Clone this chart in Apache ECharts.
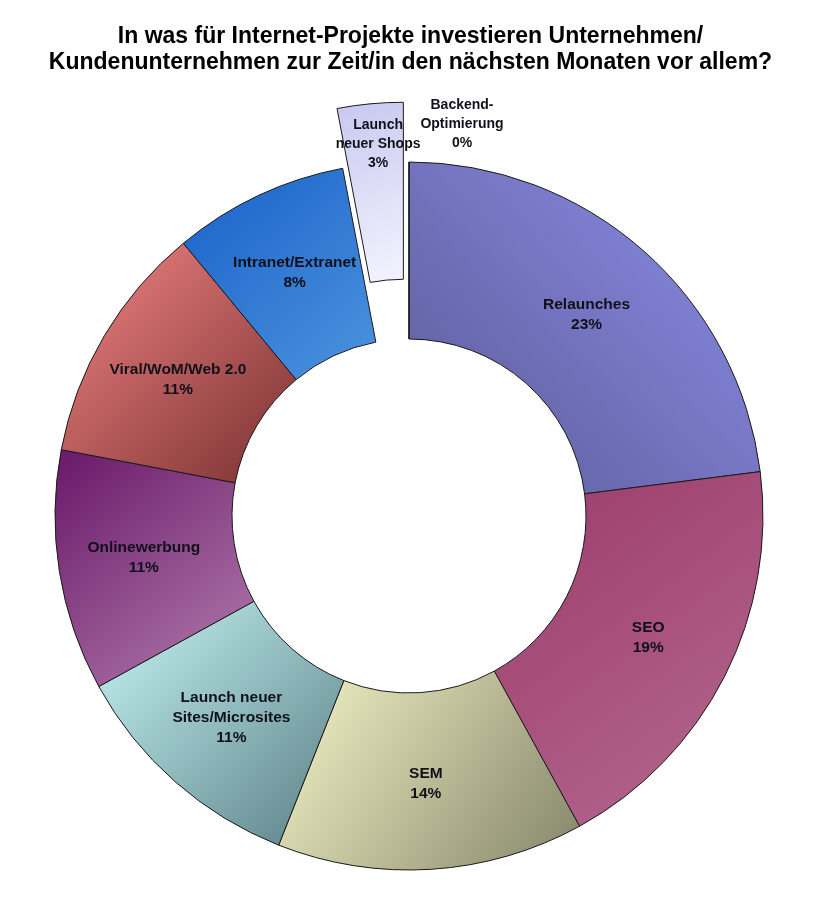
<!doctype html>
<html>
	<head>
		<meta charset="utf-8">
		<title></title>
		<script src="https://cdn.jsdelivr.net/npm/echarts@6/dist/echarts.min.js"></script>
		<style>
			html,body {
				margin: 0;
				width: 100%;
				height: 100%;
				background-color: #fff;
			}
			#container {
				width: 821px;
				height: 900px;
			}
		</style>
	</head>
	<body>
		<div id="container"></div>
		<script type="text/javascript">
			var categories = ['Relaunches', 'SEO', 'SEM', 'Launch neuer\nSites/Microsites', 'Onlinewerbung',
				'Viral/WoM/Web 2.0', 'Intranet/Extranet', 'Launch\nneuer Shops', 'Backend-\nOptimierung'];
			var values = [23, 19, 14, 11, 11, 11, 8, 3, 0];

			// gradient colours, start -> end
			var colorFrom = ['#8e8eea', '#9c3a6a', '#f6f6c8', '#c8f6f6', '#681868', '#f28484', '#1860c8', '#c8c8f0', '#ffffff'];
			var colorTo = ['#5a5a96', '#b46a90', '#84846a', '#587e84', '#b47eae', '#783030', '#4c94de', '#f4f4ff', '#ffffff'];

			var dom = document.getElementById("container");
			var myChart = echarts.init(dom);

			var data = [];
			for (var i = 0; i < categories.length; i++) {
				// Relaunches is lit from the top right, the rest from the top left
				var g = i == 0 ? [1, 0, 0, 1] : [0, 0, 1, 1];
				var item = {
					name: categories[i],
					value: values[i],
					itemStyle: {
						color: new echarts.graphic.LinearGradient(g[0], g[1], g[2], g[3], [{
							offset: 0,
							color: colorFrom[i]
						}, {
							offset: 1,
							color: colorTo[i]
						}])
					}
				};
				if (i == 7) {
					item.selected = true;
				}
				if (i >= 7) {
					// the two small labels at the top are set a bit smaller
					item.label = { fontSize: 14, lineHeight: 19 };
				}
				data.push(item);
			}

			option = {
				animation: false,
				title: {
					left: 'center',
					top: 19,
					text: 'In was für Internet-Projekte investieren Unternehmen/\nKundenunternehmen zur Zeit/in den nächsten Monaten vor allem?',
					textStyle: {
						fontFamily: 'Liberation Sans',
						fontSize: 23,
						fontWeight: 'bold',
						lineHeight: 26,
						color: '#000'
					}
				},
				series: [{
					type: 'pie',
					center: [409, 516],
					radius: [177, 354],
					startAngle: 90,
					clockwise: true,
					avoidLabelOverlap: false,
					selectedMode: 'single',
					selectedOffset: 60,
					itemStyle: {
						borderColor: '#1a1a1a',
						borderWidth: 1
					},
					label: {
						show: true,
						position: 'inside',
						formatter: '{b}\n{c}%',
						fontFamily: 'Liberation Sans',
						fontSize: 15.5,
						fontWeight: 'bold',
						lineHeight: 20,
						color: '#10101a'
					},
					labelLine: { show: false },
					labelLayout: function(params) {
						if (params.dataIndex == 7) {
							return { dy: -45 };
						}
						if (params.dataIndex == 8) {
							return { dx: 53, dy: -123 };
						}
						return {};
					},
					emphasis: { disabled: true },
					data: data
				}]
			};

			myChart.setOption(option, true);
		</script>
	</body>
</html>
